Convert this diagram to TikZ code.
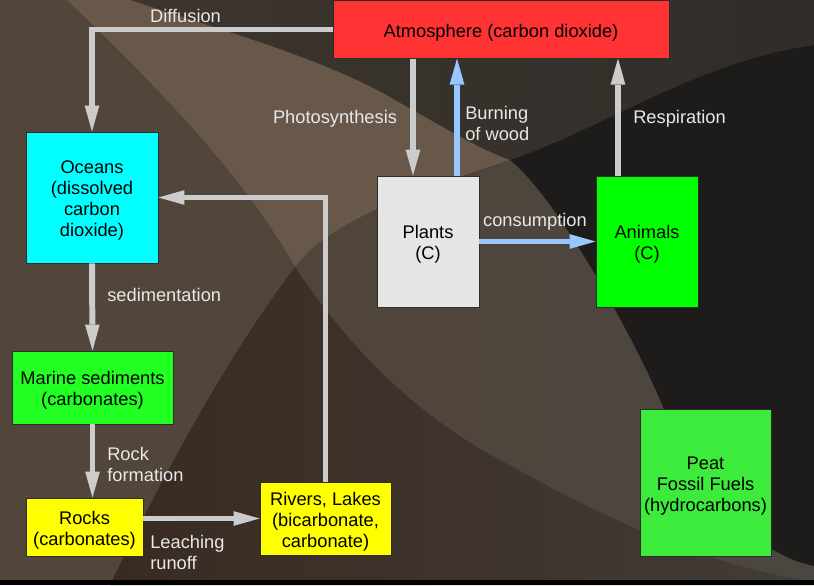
\documentclass[tikz,border=0pt]{standalone}
\usepackage{fontspec}
\setmainfont{Liberation Sans}
\usepackage{xcolor}
\usetikzlibrary{arrows.meta,positioning,calc}

\definecolor{atmred}{RGB}{255,51,51}
\definecolor{oceancyan}{RGB}{0,255,255}
\definecolor{plantgray}{RGB}{230,230,230}
\definecolor{animalgreen}{RGB}{0,255,0}
\definecolor{marinegreen}{RGB}{34,255,34}
\definecolor{rockyellow}{RGB}{255,255,0}
\definecolor{peatgreen}{RGB}{61,235,61}
\definecolor{boxline}{RGB}{45,45,40}
\definecolor{arrgray}{RGB}{204,204,204}
\definecolor{arrblue}{RGB}{150,200,255}
\definecolor{lblgray}{RGB}{232,232,232}
\definecolor{bgleft}{RGB}{82,69,58}
\definecolor{bgtop}{RGB}{62,54,46}
\definecolor{bgtopr}{RGB}{48,45,41}
\definecolor{bglight}{RGB}{104,88,73}
\definecolor{bgmid}{RGB}{80,69,58}
\definecolor{bgmidr}{RGB}{76,70,65}
\definecolor{bgdark}{RGB}{29,28,26}
\definecolor{bglow}{RGB}{57,43,34}
\definecolor{bglowr}{RGB}{66,60,55}

% strut for the first line of a multi-line text
\newcommand{\boxlift}[1][13.5pt]{\rule{0pt}{#1}}

\begin{document}
\begin{tikzpicture}[x=0.025cm, y=-0.025cm,
  box/.style={draw=boxline, line width=0.6pt, align=center, inner sep=0pt,
    font=\fontsize{13}{15}\selectfont, text=black,
    execute at begin node={\rule{0pt}{13.5pt}}},
  lbl/.style={draw=none, align=left, inner sep=0pt,
    font=\fontsize{13}{15}\selectfont, text=lblgray,
    execute at begin node={\rule{0pt}{12.5pt}}},
  flow/.style={draw=arrgray, line width=4.25pt,
    -{Triangle[length=18.5pt,width=10.5pt,line width=0pt]}},
  bflow/.style={flow, draw=arrblue}]

\useasboundingbox (0,0) rectangle (814,585);

% Background
\fill[bgleft] (0,0) rectangle (814,585);
\shade[left color=bgtop, right color=bgtopr] (67,0) .. controls (150,80) and (240,170) .. (295,267)
  .. controls (330,220) and (420,190) .. (510,160)
  .. controls (600,130) and (700,60) .. (814,45) -- (814,0) -- cycle;
\fill[bglight] (67,0) -- (130,0) .. controls (220,30) and (330,60) .. (400,103)
  .. controls (440,125) and (480,150) .. (510,160)
  .. controls (420,190) and (330,220) .. (295,267)
  .. controls (240,170) and (150,80) .. (67,0) -- cycle;
\shade[left color=bgmid, right color=bgmidr] (295,267) .. controls (330,220) and (420,190) .. (510,160)
  .. controls (600,130) and (700,60) .. (814,45) -- (814,582)
  .. controls (700,565) and (590,510) .. (513,467)
  .. controls (420,420) and (350,350) .. (295,267) -- cycle;
\fill[bgdark] (510,160) .. controls (600,130) and (700,60) .. (814,45) -- (814,566)
  .. controls (760,555) and (700,500) .. (663,407)
  .. controls (640,350) and (560,200) .. (510,160) -- cycle;
\shade[left color=bglow, right color=bglowr] (295,267) .. controls (350,350) and (420,420) .. (513,467)
  .. controls (590,510) and (700,565) .. (814,582) -- (814,585) -- (110,585)
  .. controls (180,440) and (240,340) .. (295,267) -- cycle;
\fill[black] (0,580) rectangle (814,585);

% Reservoirs
\node[box, fill=atmred, minimum width=8.4cm, minimum height=1.43cm] (atm) at (501,29.5) {Atmosphere (carbon dioxide)};
\node[box, fill=oceancyan, minimum width=3.3cm, minimum height=3.275cm] (oceans) at (92,197.5) {\boxlift Oceans\\(dissolved\\carbon\\dioxide)};
\node[box, fill=plantgray, minimum width=2.55cm, minimum height=3.275cm] (plants) at (428,241.5) {\boxlift Plants\\(C)};
\node[box, fill=animalgreen, minimum width=2.55cm, minimum height=3.275cm] (animals) at (647,241.5) {\boxlift Animals\\(C)};
\node[box, fill=marinegreen, minimum width=4.025cm, minimum height=1.825cm] (marine) at (92.5,387.5) {\boxlift Marine sediments\\(carbonates)};
\node[box, fill=rockyellow, minimum width=2.925cm, minimum height=1.45cm] (rocks) at (84.5,527) {\boxlift Rocks\\(carbonates)};
\node[box, fill=rockyellow, minimum width=3.275cm, minimum height=1.825cm] (rivers) at (325.5,518.5) {\boxlift Rivers, Lakes\\(bicarbonate,\\carbonate)};
\node[box, fill=peatgreen, minimum width=3.275cm, minimum height=3.675cm] (peat) at (705.5,482.5) {\boxlift Peat\\Fossil Fuels\\(hydrocarbons)};

% Arrow feet
\coordinate (photo) at ([xshift=-0.375cm]plants.north);
\coordinate (burn) at ([xshift=0.725cm]plants.north);
\coordinate (resp) at ([xshift=-0.725cm]animals.north);
\coordinate (leach) at (rocks.east |- rivers.west);

% Flows
\draw[flow] (atm.west) -| (oceans.north);
\draw[flow] (photo |- atm.south) -- (photo);
\draw[bflow] (burn) -- (burn |- atm.south);
\draw[flow] (resp) -- (resp |- atm.south);
\draw[bflow] (plants.east) -- (animals.west);
\draw[flow] (oceans.south) -- (marine.north);
\draw[flow] (marine.south) -- (marine.south |- rocks.north);
\draw[flow] (leach) -- (rivers.west);
\draw[flow] (rivers.north) |- (oceans.east);

% Flow labels
\node[lbl] (ldiff) at (185.5,14) {Diffusion};
\node[lbl] (lphoto) at (335,117) {Photosynthesis};
\node[lbl, anchor=west] (lburn) at (465,121.5) {\boxlift[12.5pt]Burning\\of wood};
\node[lbl] (lresp) at (679.5,117) {Respiration};
\node[lbl] (lcons) at (535,219.5) {consumption};
\node[lbl, anchor=west] (lsed) at (107,293) {sedimentation};
\node[lbl, anchor=west] (lrock) at (107,462) {\boxlift[12.5pt]Rock\\formation};
\node[lbl, anchor=west] (lleach) at (150,550) {\boxlift[12.5pt]Leaching\\runoff};

\end{tikzpicture}
\end{document}
